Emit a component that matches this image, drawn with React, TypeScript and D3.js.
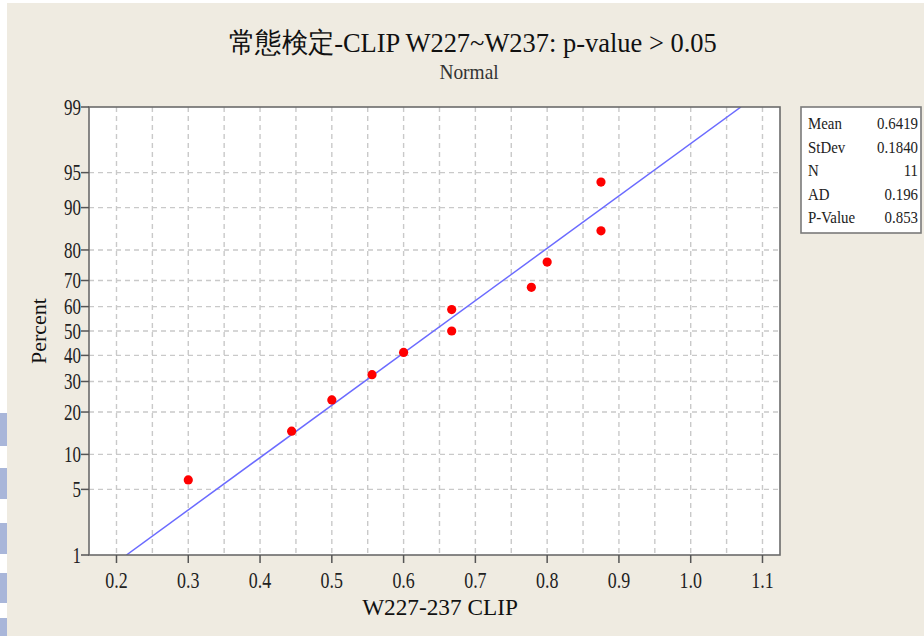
import React from "react";
import * as d3 from "d3";

// ---- data ----
const xValues = [0.3, 0.444, 0.5, 0.556, 0.6, 0.667, 0.667, 0.778, 0.8, 0.875, 0.875];
const percents = [6.1, 14.9, 23.7, 32.5, 41.2, 50.0, 58.8, 67.5, 76.3, 85.1, 93.9];
const xTicks = [0.2, 0.3, 0.4, 0.5, 0.6, 0.7, 0.8, 0.9, 1.0, 1.1];
const yTicks = [1, 5, 10, 20, 30, 40, 50, 60, 70, 80, 90, 95, 99];
const statLabels = ["Mean", "StDev", "N", "AD", "P-Value"];
const statValues = ["0.6419", "0.1840", "11", "0.196", "0.853"];
const fitMean = 0.6419;
const fitSd = 0.184;
const title = "常態検定-CLIP W227~W237: p-value > 0.05";
const subtitle = "Normal";
const xLabel = "W227-237 CLIP";
const yLabel = "Percent";

// inverse standard normal CDF (Acklam)
function probit(p: number): number {
  const a = [-39.69683028665376, 220.9460984245205, -275.9285104469687, 138.357751867269, -30.66479806614716, 2.506628277459239];
  const b = [-54.47609879822406, 161.5858368580409, -155.6989798598866, 66.80131188771972, -13.28068155288572];
  const c = [-0.007784894002430293, -0.3223964580411365, -2.400758277161838, -2.549732539343734, 4.374664141464968, 2.938163982698783];
  const dd = [0.007784695709041462, 0.3224671290700398, 2.445134137142996, 3.754408661907416];
  const pl = 0.02425;
  let q, r;
  if (p < pl) {
    q = Math.sqrt(-2 * Math.log(p));
    return (((((c[0] * q + c[1]) * q + c[2]) * q + c[3]) * q + c[4]) * q + c[5]) / ((((dd[0] * q + dd[1]) * q + dd[2]) * q + dd[3]) * q + 1);
  } else if (p <= 1 - pl) {
    q = p - 0.5;
    r = q * q;
    return ((((((a[0] * r + a[1]) * r + a[2]) * r + a[3]) * r + a[4]) * r + a[5]) * q) / (((((b[0] * r + b[1]) * r + b[2]) * r + b[3]) * r + b[4]) * r + 1);
  } else {
    q = Math.sqrt(-2 * Math.log(1 - p));
    return -(((((c[0] * q + c[1]) * q + c[2]) * q + c[3]) * q + c[4]) * q + c[5]) / ((((dd[0] * q + dd[1]) * q + dd[2]) * q + dd[3]) * q + 1);
  }
}

const W = 924;
const H = 636;
const plot = { left: 89, right: 780, top: 107, bottom: 555 };
const FONT = "'Liberation Serif', 'Times New Roman', serif";

function CText(props: {
  x: number;
  y: number;
  s?: number;
  size: number;
  anchor?: string;
  rotate?: number;
  dy?: string;
  fill?: string;
  children: React.ReactNode;
}) {
  const { x, y, s = 1, size, anchor = "start", rotate = 0, dy, fill = "#1a1a1a", children } = props;
  return (
    <text
      transform={`translate(${x},${y}) rotate(${rotate}) scale(${s},1)`}
      textAnchor={anchor as any}
      fontSize={size}
      dy={dy}
      fill={fill}
    >
      {children}
    </text>
  );
}

export default function App() {
  const zMin = probit(0.01);
  const zMax = probit(0.99);
  const x = d3.scaleLinear().domain([0.1617, 1.1244]).range([plot.left, plot.right]);
  const y = d3.scaleLinear().domain([zMin, zMax]).range([plot.bottom, plot.top]);
  const yp = (p: number) => y(probit(p / 100));

  const gridX = d3.range(0.2, 1.1001, 0.05);
  const gridY = yTicks.slice(1, -1);

  const lineZ = [zMin, zMax];
  const linePath = d3
    .line<number>()
    .x((z) => x(fitMean + fitSd * z))
    .y((z) => y(z))(lineZ) as string;

  const boxX = 801;
  const boxY = 107;
  const boxW = 120;
  const boxH = 126;

  return (
    <div style={{ position: "fixed", left: 0, top: 0 }}>
      <svg width={W} height={H} style={{ display: "block", fontFamily: FONT }}>
        <rect x={0} y={0} width={W} height={H} fill="#ffffff" />
        <rect x={7} y={3} width={W - 7} height={H - 3} fill="#efebe1" />
        {/* left edge blue page blocks */}
        {[
          [413, 446],
          [468, 499],
          [523, 554],
          [573, 603],
          [618, 636],
        ].map(([a, b], i) => (
          <rect key={i} x={0} y={a} width={7} height={b - a} fill="#a9b6d9" />
        ))}

        <CText x={473} y={52} s={0.945} size={28} anchor="middle" fill="#111">
          {title}
        </CText>
        <CText x={469} y={79} size={20} s={0.97} anchor="middle" fill="#333">
          {subtitle}
        </CText>

        <rect x={plot.left} y={plot.top} width={plot.right - plot.left} height={plot.bottom - plot.top} fill="#ffffff" />
        <clipPath id="clip">
          <rect x={plot.left} y={plot.top} width={plot.right - plot.left} height={plot.bottom - plot.top} />
        </clipPath>

        {gridX.map((v, i) => (
          <line key={"gx" + i} x1={x(v)} x2={x(v)} y1={plot.top} y2={plot.bottom} stroke="#c9c9c9" strokeWidth={1.4} strokeDasharray="5,4" />
        ))}
        {gridY.map((v, i) => (
          <line key={"gy" + i} x1={plot.left} x2={plot.right} y1={yp(v)} y2={yp(v)} stroke="#c9c9c9" strokeWidth={1.4} strokeDasharray="5,4" />
        ))}

        <path d={linePath} stroke="#6b6bff" strokeWidth={1.5} fill="none" clipPath="url(#clip)" />

        {xValues.map((v, i) => (
          <circle key={"p" + i} cx={x(v)} cy={yp(percents[i])} r={4.6} fill="#ff0000" />
        ))}

        <rect x={plot.left} y={plot.top} width={plot.right - plot.left} height={plot.bottom - plot.top} fill="none" stroke="#6b6b6b" strokeWidth={1.6} />

        {/* y ticks */}
        {yTicks.map((v, i) => (
          <g key={"yt" + i}>
            <line x1={plot.left - 8} x2={plot.left} y1={yp(v)} y2={yp(v)} stroke="#555" strokeWidth={1.5} />
            <CText x={plot.left - 8} y={yp(v)} dy="0.33em" anchor="end" size={23} s={0.74} fill="#222">
              {v}
            </CText>
          </g>
        ))}
        {/* x ticks */}
        {xTicks.map((v, i) => (
          <g key={"xt" + i}>
            <line x1={x(v)} x2={x(v)} y1={plot.bottom} y2={plot.bottom + 8} stroke="#555" strokeWidth={1.5} />
            <CText x={x(v)} y={588} anchor="middle" size={23} s={0.78} fill="#222">
              {d3.format(".1f")(v)}
            </CText>
          </g>
        ))}

        <CText x={440} y={615} anchor="middle" size={24} s={0.97} fill="#111">
          {xLabel}
        </CText>
        <CText x={46} y={331} rotate={-90} anchor="middle" size={22} fill="#111">
          {yLabel}
        </CText>

        {/* stats box */}
        <rect x={boxX} y={boxY} width={boxW} height={boxH} fill="#ffffff" stroke="#7a7a7a" strokeWidth={1.6} />
        {statLabels.map((s, i) => (
          <g key={"s" + i}>
            <CText x={boxX + 7} y={boxY + 22 + i * 23.5} size={16} s={0.93} fill="#222">
              {s}
            </CText>
            <CText x={boxX + boxW - 3} y={boxY + 22 + i * 23.5} anchor="end" size={16} s={0.93} fill="#222">
              {statValues[i]}
            </CText>
          </g>
        ))}
      </svg>
    </div>
  );
}
